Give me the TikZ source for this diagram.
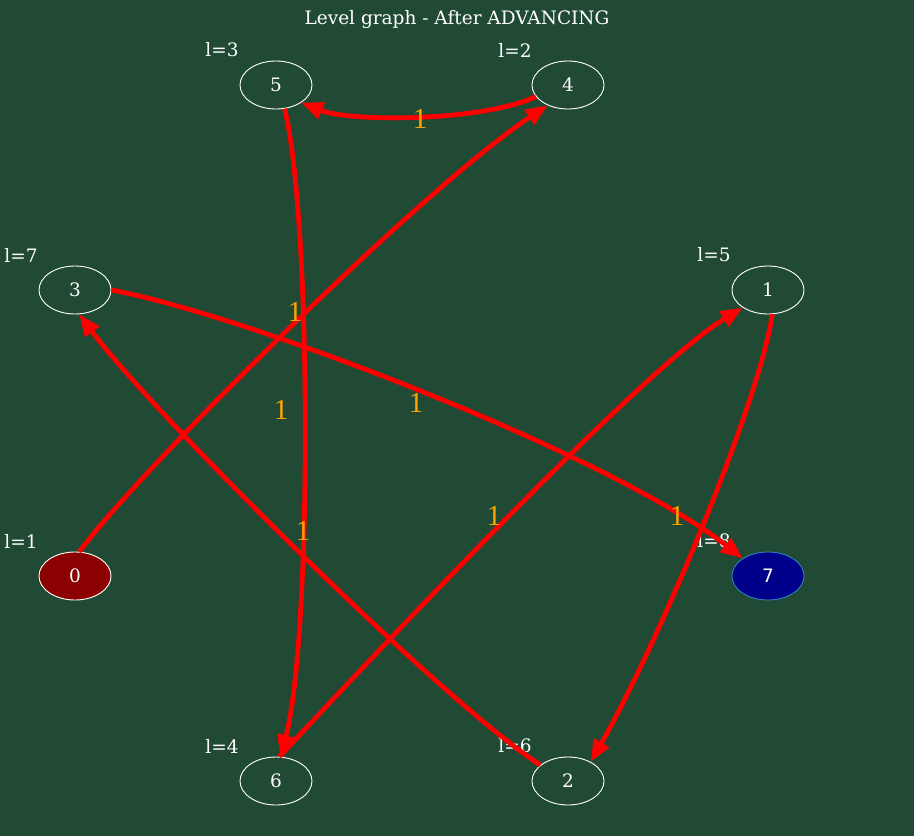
\documentclass[tikz,border=0pt]{standalone}
\usepackage{fontspec}
\setmainfont{DejaVu Serif}
\newfontfamily\lblfont{Liberation Serif}
\newfontfamily\sansf{DejaVu Sans}
\usetikzlibrary{arrows.meta,shapes.geometric}
\definecolor{bgc}{HTML}{214A34}
\definecolor{edgered}{HTML}{FF0000}
\definecolor{lblorange}{HTML}{FFA500}
\definecolor{darkred}{HTML}{8B0000}
\definecolor{navy}{HTML}{00008B}
\definecolor{navyborder}{HTML}{2F7FC0}
\tikzset{
  vnode/.style={ellipse, draw=white, line width=0.9pt, minimum width=72pt, minimum height=48pt, inner sep=0pt, text=white, font=\fontsize{18.5}{21}\selectfont},
  lvl/.style={text=white, font=\fontsize{18.5}{21}\selectfont, inner sep=0pt},
  wlab/.style={text=lblorange, font=\lblfont\fontsize{29}{31}\selectfont, inner sep=0pt},
  redge/.style={draw=edgered, line width=4.8pt, -{Triangle[length=22pt,width=17pt]}},
}
\begin{document}
\begin{tikzpicture}[x=1pt,y=-1pt]
\fill[bgc] (0,0) rectangle (914,836);
\useasboundingbox (0,0) rectangle (914,836);
\node[text=white, font=\fontsize{18.5}{21}\selectfont] (title) at (457,20) {Level graph - After ADVANCING};
% nodes
\node[vnode] (n5) at (276,85) {5};
\node[vnode] (n4) at (568,85) {4};
\node[vnode] (n3) at (75,290) {3};
\node[vnode] (n1) at (768,290) {1};
\node[vnode, fill=darkred] (n0) at (75,576) {0};
\node[vnode, fill=navy, draw=navyborder, font=\sansf\fontsize{18.5}{21}\selectfont] (n7) at (768,576) {7};
\node[vnode] (n6) at (276,781) {6};
\node[vnode] (n2) at (568,781) {2};
% level labels
\node[lvl] (l5) at (222,50) {l=3};
\node[lvl] (l4) at (515,50) {l=2};
\node[lvl] (l3) at (21,255) {l=7};
\node[lvl] (l1) at (714,255) {l=5};
\node[lvl] (l0) at (21,541) {l=1};
\node[lvl] (l7) at (714,541) {l=8};
\node[lvl] (l6) at (222,746) {l=4};
\node[lvl] (l2) at (515,746) {l=6};
% edges
\draw[redge] (n4.-160) .. controls (480,122) and (350,122) .. (n5.-35);
\draw[redge] (n0.80) .. controls (140,470) and (420,190) .. (n4.-135);
\draw[redge] (n5.-70) .. controls (312,220) and (312,640) .. (n6.80);
\draw[redge] (n6.82) .. controls (360,670) and (640,370) .. (n1.-145);
\draw[redge] (n1.-80) .. controls (760,400) and (660,640) .. (n2.40);
\draw[redge] (n2.150) .. controls (440,700) and (150,410) .. (n3.-80);
\draw[redge] (n3.0) .. controls (250,316) and (610,455) .. (n7.145);
% weight labels
\node[wlab] (w45) at (420,119) {1};
\node[wlab] (w04) at (295,312) {1};
\node[wlab] (w56) at (281,410) {1};
\node[wlab] (w37) at (416,403) {1};
\node[wlab] (w23) at (303,531) {1};
\node[wlab] (w61) at (494,516) {1};
\node[wlab] (w12) at (677,516) {1};
\end{tikzpicture}
\end{document}
